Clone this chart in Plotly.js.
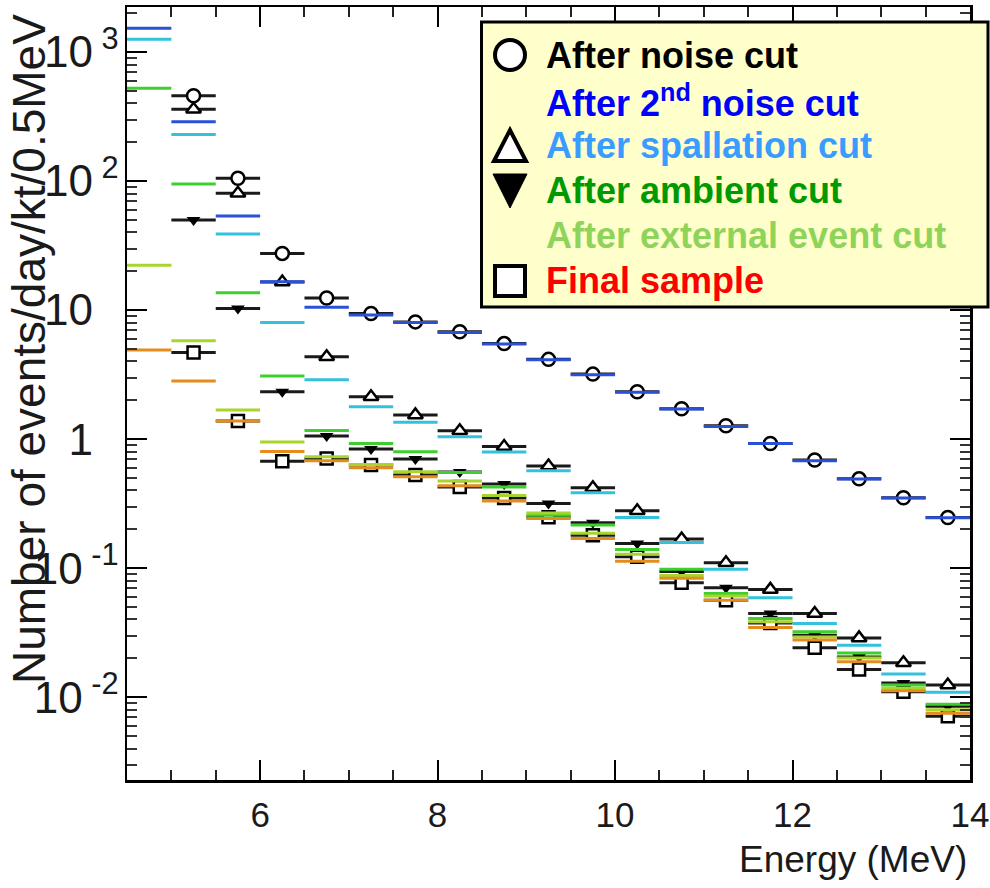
<!DOCTYPE html>
<html>
<head>
<meta charset="utf-8">
<script src="https://cdn.plot.ly/plotly-3.0.1.min.js"></script>
<style>
  html, body { margin: 0; padding: 0; background: #ffffff; }
  #chart { width: 990px; height: 888px; }
</style>
</head>
<body>
<div id="chart"></div>
<script>
// Energy bins, 0.5 MeV wide (centres)
const binCenters = [4.75, 5.25, 5.75, 6.25, 6.75, 7.25, 7.75, 8.25, 8.75, 9.25,
                    9.75, 10.25, 10.75, 11.25, 11.75, 12.25, 12.75, 13.25, 13.75];
const binHalfWidth = 0.25;

// Event rates (events/day/kt/0.5MeV) after each reduction step
const noiseCut      = [null, 458, 105, 27.5, 12.4, 9.4, 8.1, 6.8, 5.5, 4.15,
                       3.19, 2.33, 1.72, 1.27, 0.926, 0.688, 0.492, 0.351, 0.247];
const noiseCut2     = [1527, 288, 53.5, 16.6, 10.5, 9.15, 8.0, 6.7, 5.45, 4.13,
                       3.16, 2.31, 1.71, 1.25, 0.923, 0.681, 0.49, 0.349, 0.246];
const spallationA   = [null, 360, 80.3, 16.5, 4.35, 2.13, 1.54, 1.16, 0.875, 0.618,
                       0.419, 0.278, 0.168, 0.110, 0.0684, 0.0445, 0.0288, 0.01845, 0.0124];
const spallationB   = [1254, 230, 38.8, 8.03, 2.89, 1.78, 1.35, 1.042, 0.793, 0.568,
                       0.384, 0.247, 0.158, 0.098, 0.0589, 0.0373, 0.0253, 0.0151, 0.0109];
const ambientA      = [null, 49.9, 10.3, 2.33, 1.055, 0.837, 0.70, 0.555, 0.448, 0.317,
                       0.2245, 0.155, 0.094, 0.0706, 0.0445, 0.0302, 0.0205, 0.0129, 0.0085];
const ambientB      = [523, 94.8, 13.6, 3.09, 1.168, 0.923, 0.797, 0.55, 0.4245, 0.2575,
                       0.2155, 0.1396, 0.0979, 0.0637, 0.0407, 0.0321, 0.022, 0.0124, 0.0088];
const externalCut   = [22.3, 5.78, 1.678, 0.948, 0.729, 0.637, 0.558, 0.473, 0.365, 0.267,
                       0.186, 0.128, 0.0875, 0.0607, 0.0384, 0.0293, 0.0201, 0.0117, 0.0080];
const finalB        = [4.90, 2.82, 1.38, 0.80, 0.681, 0.599, 0.510, 0.4345, 0.332, 0.243,
                       0.170, 0.113, 0.0836, 0.0565, 0.0347, 0.0277, 0.0188, 0.0112, 0.0075];
const finalA        = [null, 4.70, 1.38, 0.675, 0.709, 0.629, 0.526, 0.4245, 0.349, 0.2485,
                       0.180, 0.1224, 0.0772, 0.0565, 0.0375, 0.0241, 0.0164, 0.0110, 0.0071];

// Axis labels (plain labels carry a hidden exponent so every mantissa lines up)
const xTickVals = [6, 8, 10, 12, 14];
const yTickVals = [0.01, 0.1, 1, 10, 100, 1000];
const hiddenExp = '<span style="color:rgba(0,0,0,0)"><sup> 0</sup></span>';
const yTickText = ['10<sup> -2</sup>', '10<sup> -1</sup>', '1' + hiddenExp, '10' + hiddenExp,
                   '10<sup> 2</sup>', '10<sup> 3</sup>'];

const legendLabels = ['After noise cut', 'After 2<sup>nd</sup> noise cut', 'After spallation cut',
                      'After ambient cut', 'After external event cut', 'Final sample'];
const legendColors = ['#000000', '#0000ff', '#3a9cff', '#009a00', '#8fd45a', '#ff0000'];

const FONT = 'Liberation Sans, Arial, Helvetica, sans-serif';

// Plot area geometry (pixels)
const M = { l: 127, r: 20, t: 7, b: 108 };
const W = 990, H = 888;
const plotW = W - M.l - M.r, plotH = H - M.t - M.b;
const px = v => (v - M.l) / plotW;           // page x -> paper x
const py = v => (H - M.b - v) / plotH;       // page y -> paper y

function binTrace(vals, barColor, marker) {
  return {
    x: binCenters, y: vals, type: 'scatter', mode: 'markers',
    showlegend: false, hoverinfo: 'skip', cliponaxis: true,
    error_x: { type: 'constant', value: binHalfWidth, thickness: 3, width: 0, color: barColor },
    marker: marker || { size: 1, opacity: 0 }
  };
}
const openMarker = (symbol, size) => ({ symbol: symbol, size: size, color: '#ffffff',
                                        line: { color: '#000000', width: 2.5 } });

const traces = [
  binTrace(noiseCut,    '#1a1a1a', openMarker('circle', 13)),
  binTrace(spallationA, '#1a1a1a', openMarker('triangle-up', 13)),
  binTrace(ambientA,    '#1a1a1a', { symbol: 'triangle-down', size: 12, color: '#000000' }),
  binTrace(finalA,      '#1a1a1a', openMarker('square', 12)),
  binTrace(noiseCut2,   '#2b50d8'),
  binTrace(spallationB, '#33c2dc'),
  binTrace(ambientB,    '#3ccf2e'),
  binTrace(externalCut, '#a9d42e'),
  binTrace(finalB,      '#e58c1f')
];

// Minor ticks on the log axis: 2..9 in every decade
const yMinor = [];
for (let e = -3; e <= 3; e++) for (let k = 2; k <= 9; k++) yMinor.push(k * Math.pow(10, e));

// Legend box, symbols and labels
const legTop = 22, legBottom = 307, legLeft = 481.5, legRight = 988;
const rowY = [55, 101, 146, 191, 236, 281];
const symX = 510, symR = 15;
const shapes = [
  { type: 'rect', xref: 'paper', yref: 'paper', x0: px(legLeft), x1: px(legRight),
    y0: py(legBottom), y1: py(legTop), fillcolor: '#ffffcc', line: { color: '#000000', width: 3 }, layer: 'above' },
  { type: 'circle', xref: 'paper', yref: 'paper', x0: px(symX - symR), x1: px(symX + symR),
    y0: py(rowY[0] + symR), y1: py(rowY[0] - symR), fillcolor: '#ffffff', line: { color: '#000000', width: 4 }, layer: 'above' },
  { type: 'path', xref: 'paper', yref: 'paper',
    path: `M ${px(symX - 16)} ${py(rowY[2] + 15)} L ${px(symX + 16)} ${py(rowY[2] + 15)} L ${px(symX)} ${py(rowY[2] - 16)} Z`,
    fillcolor: '#ffffff', line: { color: '#000000', width: 4 }, layer: 'above' },
  { type: 'path', xref: 'paper', yref: 'paper',
    path: `M ${px(symX - 17)} ${py(rowY[3] - 17)} L ${px(symX + 17)} ${py(rowY[3] - 17)} L ${px(symX)} ${py(rowY[3] + 17)} Z`,
    fillcolor: '#000000', line: { color: '#000000', width: 1 }, layer: 'above' },
  { type: 'rect', xref: 'paper', yref: 'paper', x0: px(symX - 15), x1: px(symX + 15),
    y0: py(rowY[5] + 15), y1: py(rowY[5] - 15), fillcolor: '#ffffff', line: { color: '#000000', width: 4 }, layer: 'above' }
];

const annotations = legendLabels.map((t, i) => ({
  xref: 'paper', yref: 'paper', x: px(544), y: py(rowY[i]), xanchor: 'left', yanchor: 'middle',
  text: '<b>' + t + '</b>', showarrow: false, font: { family: FONT, size: 36, color: legendColors[i] }
}));
annotations.push({
  xref: 'paper', yref: 'paper', x: px(29), y: py(349), xanchor: 'center', yanchor: 'middle',
  textangle: -90, text: 'Number of events/day/kt/0.5MeV', showarrow: false,
  font: { family: FONT, size: 46, color: '#1a1a1a' }
});
annotations.push({
  xref: 'paper', yref: 'paper', x: px(969), y: py(859), xanchor: 'right', yanchor: 'middle',
  text: 'Energy (MeV)', showarrow: false, font: { family: FONT, size: 37, color: '#1a1a1a' }
});

const layout = {
  width: W, height: H,
  margin: { l: M.l, r: M.r, t: M.t, b: M.b, pad: 0 },
  paper_bgcolor: '#ffffff', plot_bgcolor: '#ffffff',
  showlegend: false,
  xaxis: {
    range: [4.5, 14], tickmode: 'array', tickvals: xTickVals,
    ticks: 'inside', ticklen: 20, tickwidth: 2, tickcolor: '#000000',
    minor: { ticks: 'inside', ticklen: 10, tickwidth: 2, tickcolor: '#222222', dtick: 0.5, tick0: 4.5 },
    showline: true, linewidth: 2.5, linecolor: '#000000', mirror: 'allticks',
    showgrid: false, zeroline: false, ticklabelstandoff: 2,
    tickfont: { family: FONT, size: 35, color: '#1a1a1a' }
  },
  yaxis: {
    type: 'log', range: [Math.log10(0.00228), Math.log10(2234)],
    tickmode: 'array', tickvals: yTickVals, ticktext: yTickText,
    ticks: 'inside', ticklen: 20, tickwidth: 2, tickcolor: '#000000',
    minor: { ticks: 'inside', ticklen: 10, tickwidth: 2, tickcolor: '#333333', tickmode: 'array', tickvals: yMinor },
    showline: true, linewidth: 2.5, linecolor: '#000000', mirror: 'allticks',
    showgrid: false, zeroline: false, ticklabelstandoff: -3,
    tickfont: { family: FONT, size: 44, color: '#1a1a1a' }
  },
  shapes: shapes,
  annotations: annotations
};

Plotly.newPlot('chart', traces, layout, { staticPlot: true, displayModeBar: false });
</script>
</body>
</html>
